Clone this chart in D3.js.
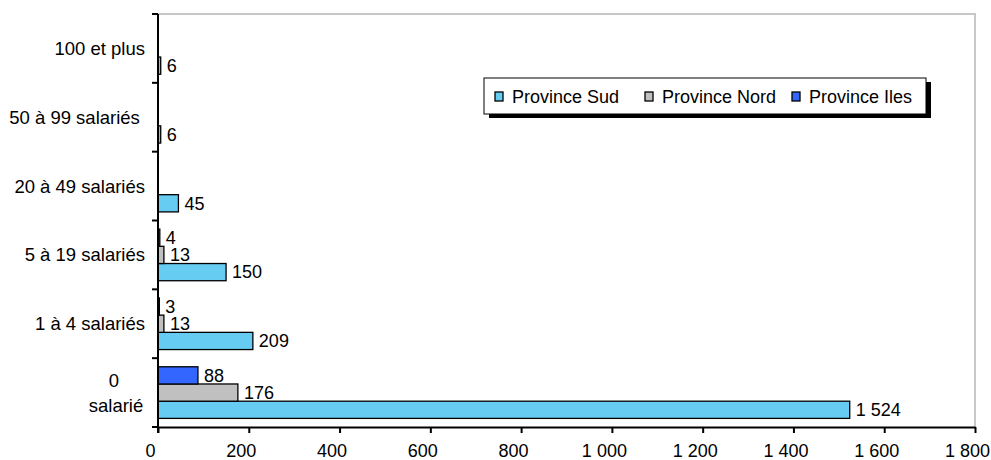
<!DOCTYPE html>
<html>
<head>
<meta charset="utf-8">
<script src="https://cdn.jsdelivr.net/npm/d3@7/dist/d3.min.js"></script>
<style>
  html, body { margin: 0; padding: 0; background: #fff; }
  svg { display: block; font-family: "Liberation Sans", Arial, sans-serif; }
  text { white-space: pre; }
</style>
</head>
<body>
<svg id="chart" width="991" height="460"></svg>
<script>
// Établissements par tranche d'effectif salarié et par province
const categories = ["0 salarié", "1 à 4 salariés", "5 à 19 salariés", "20 à 49 salariés", "50 à 99 salariés", "100 et plus"];
const categoryLines = [["0", "salarié"], ["1 à 4 salariés"], ["5 à 19 salariés"], ["20 à 49 salariés"], ["50 à 99 salariés "], ["100 et plus"]];
const seriesNames = ["Province Sud", "Province Nord", "Province Iles"];
const provinceSud = [1524, 209, 150, 45, 6, 6];
const provinceNord = [176, 13, 13, null, null, null];
const provinceIles = [88, 3, 4, null, null, null];
const xTickValues = [0, 200, 400, 600, 800, 1000, 1200, 1400, 1600, 1800];
const seriesColors = ["#66CCF2", "#C0C0C0", "#3366FF"];

const seriesValues = [provinceSud, provinceNord, provinceIles];

const fr = d3.formatLocale({ decimal: ",", thousands: " ", grouping: [3], currency: ["", " €"] });
const fmt = fr.format(",d");

const svg = d3.select("#chart");
const plotLeft = 158, plotRight = 975, plotTop = 14, plotBottom = 427;
const fontSize = 18;

const x = d3.scaleLinear().domain([0, 1800]).range([plotLeft, plotRight]);
// first category at the bottom of the axis
const y = d3.scaleBand().domain(categories).range([plotBottom, plotTop]).padding(0);
// within a category: Iles on top, Sud at the bottom
const inner = d3.scaleBand().domain([2, 1, 0]).range([0, y.bandwidth()]).paddingInner(0).paddingOuter(0.5);

// plot-area frame (top and right edges)
svg.append("path")
  .attr("d", `M${plotLeft},${plotTop}H${plotRight}V${plotBottom}`)
  .attr("fill", "none").attr("stroke", "#c8c8c8").attr("stroke-width", 2);

// bars
const bars = [];
seriesValues.forEach((vals, s) => {
  vals.forEach((v, i) => {
    if (v !== null) bars.push({ s, cat: categories[i], v });
  });
});

svg.append("g").selectAll("rect").data(bars).join("rect")
  .attr("x", plotLeft)
  .attr("y", d => y(d.cat) + inner(d.s))
  .attr("width", d => x(d.v) - plotLeft)
  .attr("height", inner.bandwidth())
  .attr("fill", d => seriesColors[d.s])
  .attr("stroke", "#000").attr("stroke-width", 1.3);

// value labels
svg.append("g").selectAll("text").data(bars).join("text")
  .attr("x", d => x(d.v) + 6)
  .attr("y", d => y(d.cat) + inner(d.s) + inner.bandwidth() / 2)
  .attr("dy", "0.35em")
  .attr("font-size", fontSize)
  .attr("fill", "#000")
  .text(d => fmt(d.v));

// x axis (tick labels sit slightly left of their ticks)
const xAxis = d3.axisBottom(x).tickValues(xTickValues).tickSize(6).tickSizeOuter(0).tickFormat(fmt);
const gx = svg.append("g").attr("transform", `translate(0,${plotBottom})`).call(xAxis);
gx.select(".domain").attr("stroke", "#000").attr("stroke-width", 2);
gx.selectAll(".tick line").attr("stroke", "#000").attr("stroke-width", 2);
gx.selectAll(".tick text").attr("font-size", fontSize).attr("font-family", "Liberation Sans, Arial, sans-serif")
  .attr("fill", "#000").attr("x", -8).attr("y", 30).attr("dy", null);

// y axis: line with ticks at band boundaries
const gy = svg.append("g");
gy.append("line").attr("x1", plotLeft).attr("x2", plotLeft).attr("y1", plotTop).attr("y2", plotBottom + 6)
  .attr("stroke", "#000").attr("stroke-width", 2);
const boundaries = categories.map(c => y(c)).concat([plotBottom]);
gy.selectAll("line.tk").data(boundaries).join("line").attr("class", "tk")
  .attr("x1", plotLeft - 6).attr("x2", plotLeft).attr("y1", d => d).attr("y2", d => d)
  .attr("stroke", "#000").attr("stroke-width", 2);

// category labels
const labelX = 145;
const labelSize = 18.5;
categories.forEach((c, i) => {
  const lines = categoryLines[i];
  const cy = y(c) + y.bandwidth() / 2;
  if (lines.length === 1) {
    gy.append("text").attr("x", labelX).attr("y", cy).attr("dy", "0.35em")
      .attr("text-anchor", "end").attr("font-size", labelSize).text(lines[0]);
  } else {
    const t = gy.append("text").attr("font-size", labelSize).attr("text-anchor", "middle");
    const w = 58;
    lines.forEach((ln, k) => {
      t.append("tspan").attr("x", labelX - w / 2 + (k === 0 ? -2 : 0))
        .attr("y", cy + (k - 0.5) * 25).attr("dy", "0.35em").text(ln);
    });
  }
});

// legend with drop shadow
const lg = svg.append("g");
const lx = 484, ly = 78, lw = 442, lh = 36;
lg.append("rect").attr("x", lx + 5).attr("y", ly + 4).attr("width", lw).attr("height", lh).attr("fill", "#000");
lg.append("rect").attr("x", lx).attr("y", ly).attr("width", lw).attr("height", lh)
  .attr("fill", "#fff").attr("stroke", "#000").attr("stroke-width", 1);
const legendX = [495, 645, 792];
seriesNames.forEach((n, i) => {
  lg.append("rect").attr("x", legendX[i]).attr("y", ly + 14).attr("width", 8).attr("height", 9)
    .attr("fill", seriesColors[i]).attr("stroke", "#000").attr("stroke-width", 1.3);
  lg.append("text").attr("x", legendX[i] + 17).attr("y", ly + lh / 2 + 1).attr("dy", "0.35em")
    .attr("font-size", fontSize).text(n);
});
</script>
</body>
</html>
